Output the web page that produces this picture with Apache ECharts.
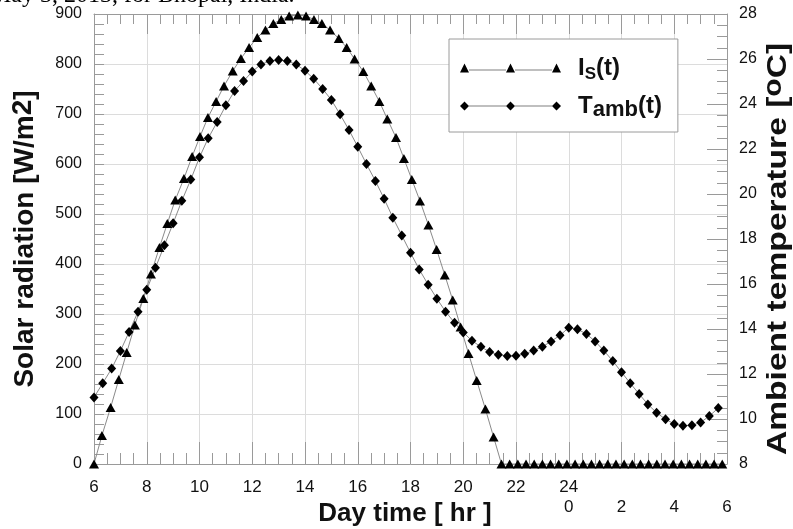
<!DOCTYPE html>
<html>
<head>
<meta charset="utf-8">
<title>Solar radiation and ambient temperature</title>
<script src="https://cdn.jsdelivr.net/npm/echarts@6/dist/echarts.min.js"></script>
<style>
  html, body { margin: 0; padding: 0; background: #fff; }
  #chart { width: 793px; height: 529px; }
</style>
</head>
<body>
<div id="chart"></div>
<script>
// Is(t) - solar radiation [W/m2], triangles
const solarHours = [6.00, 6.30, 6.63, 6.94, 7.24, 7.55, 7.87, 8.16, 8.48, 8.78, 9.08, 9.41, 9.72, 10.02,
    10.32, 10.63, 10.93, 11.26, 11.57, 11.88, 12.19, 12.50, 12.80, 13.10, 13.40, 13.73, 14.04, 14.34,
    14.64, 14.95, 15.28, 15.58, 15.88, 16.21, 16.51, 16.82, 17.12, 17.45, 17.75, 18.05, 18.36, 18.68,
    18.99, 19.30, 19.60, 19.90, 20.20, 20.51, 20.84, 21.15, 21.45, 21.76, 22.07, 22.38, 22.69, 23.00,
    23.31, 23.62, 23.93, 24.24, 24.55, 24.86, 25.17, 25.48, 25.79, 26.10, 26.41, 26.72, 27.03, 27.34,
    27.65, 27.96, 28.27, 28.58, 28.89, 29.20, 29.51, 29.82];
const solarValues = [0, 57, 113, 169, 223, 278, 331, 380, 433, 481, 528, 571, 615, 655,
    693, 725, 756, 786, 811, 833, 853, 868, 881, 889, 896, 898, 896, 889,
    881, 868, 851, 833, 810, 785, 756, 725, 690, 653, 611, 569, 526, 478,
    429, 378, 328, 274, 221, 167, 110, 54, 0, 0, 0, 0, 0, 0,
    0, 0, 0, 0, 0, 0, 0, 0, 0, 0, 0, 0, 0, 0,
    0, 0, 0, 0, 0, 0, 0, 0];

// Tamb(t) - ambient temperature [oC], diamonds
const tempHours = [6.00, 6.33, 6.67, 7.00, 7.33, 7.67, 8.00, 8.33, 8.67, 9.00, 9.33, 9.67,
    10.00, 10.33, 10.67, 11.00, 11.33, 11.67, 12.00, 12.33, 12.67, 13.00, 13.33, 13.67,
    14.00, 14.33, 14.67, 15.00, 15.33, 15.67, 16.00, 16.33, 16.67, 17.00, 17.33, 17.67,
    18.00, 18.33, 18.67, 19.00, 19.33, 19.67, 20.00, 20.33, 20.67, 21.00, 21.33, 21.67,
    22.00, 22.33, 22.67, 23.00, 23.33, 23.67, 24.00, 24.33, 24.67, 25.00, 25.33, 25.67,
    26.00, 26.33, 26.67, 27.00, 27.33, 27.67, 28.00, 28.33, 28.67, 29.00, 29.33, 29.67];
const tempValues = [10.96, 11.59, 12.24, 13.02, 13.87, 14.77, 15.75, 16.72, 17.72, 18.70, 19.70, 20.64,
    21.63, 22.48, 23.20, 23.94, 24.58, 25.02, 25.44, 25.76, 25.91, 25.96, 25.91, 25.76,
    25.48, 25.12, 24.67, 24.18, 23.54, 22.84, 22.10, 21.33, 20.58, 19.79, 18.95, 18.16,
    17.39, 16.65, 15.97, 15.35, 14.77, 14.28, 13.85, 13.48, 13.21, 12.98, 12.86, 12.80,
    12.81, 12.90, 13.04, 13.21, 13.45, 13.72, 14.06, 13.99, 13.78, 13.45, 13.04, 12.58,
    12.08, 11.59, 11.11, 10.65, 10.28, 9.99, 9.78, 9.70, 9.72, 9.85, 10.13, 10.49];

// x tick labels: first row is the day hour, second row the next-day clock
const hourLabels = {6: '6', 8: '8', 10: '10', 12: '12', 14: '14', 16: '16', 18: '18', 20: '20',
    22: '22', 24: '24\n0', 26: '\n2', 28: '\n4', 30: '\n6'};

const FONT = '"Liberation Sans", Arial, sans-serif';

const triIcon = 'path://M0,9 L4.5,0 L9,9 Z M46,9 L50.5,0 L55,9 Z M92,9 L96.5,0 L101,9 Z' +
    ' M9,6.2 L46,6.2 L46,6.8 L9,6.8 Z M55,6.2 L92,6.2 L92,6.8 L55,6.8 Z';
const diaIcon = 'path://M0,4.5 L4.5,0 L9,4.5 L4.5,9 Z M46,4.5 L50.5,0 L55,4.5 L50.5,9 Z' +
    ' M92,4.5 L96.5,0 L101,4.5 L96.5,9 Z M9,4.2 L46,4.2 L46,4.8 L9,4.8 Z M55,4.2 L92,4.2 L92,4.8 L55,4.8 Z';

const chart = echarts.init(document.getElementById('chart'));

const frameColor = '#9a9a9a';
const gridColor = '#dcdcdc';
const textColor = '#111';

const option = {
    animation: false,
    backgroundColor: '#fff',
    textStyle: { fontFamily: FONT },
    graphic: [{
        // caption of the figure, cut off at the top edge
        type: 'text',
        x: -10,
        y: -16,
        style: {
            text: 'May 3, 2013, for Bhopal, India.',
            font: '24px "Liberation Serif", "Times New Roman", serif',
            fill: '#000'
        }
    }, {
        // right axis title, drawn stretched along its length like the original
        type: 'text',
        x: 778,
        y: 249,
        rotation: Math.PI / 2,
        scaleX: 1.2,
        style: {
            text: 'Ambient temperature [{sup|o}C]',
            fontSize: 28,
            fontWeight: 'bold',
            fontFamily: FONT,
            fill: textColor,
            align: 'center',
            verticalAlign: 'middle',
            rich: {
                sup: { fontSize: 25, fontWeight: 'bold', fontFamily: FONT, fill: textColor, padding: [0, 0, 7, 0] }
            }
        }
    }],
    grid: { left: 94, right: 66, top: 14, bottom: 65, containLabel: false, outerBoundsMode: 'none' },
    legend: {
        left: 449,
        top: 39,
        orient: 'vertical',
        backgroundColor: '#fff',
        borderColor: frameColor,
        borderWidth: 1,
        padding: [17, 16, 11, 11],
        itemWidth: 101,
        itemHeight: 9,
        itemGap: 11,
        data: [
            { name: 'Is(t)', icon: triIcon },
            { name: 'Tamb(t)', icon: diaIcon }
        ],
        formatter: (name) => name === 'Is(t)' ? '{p|}{m|I}{s|S}{m|(t)}' : '{p|}{m|T}{a|amb}{m|(t)}',
        textStyle: {
            color: textColor,
            rich: {
                p: { width: 12 },
                m: { fontSize: 24, fontWeight: 'bold', lineHeight: 30, verticalAlign: 'middle', fontFamily: FONT },
                s: { fontSize: 17, fontWeight: 'bold', lineHeight: 20, verticalAlign: 'bottom', fontFamily: FONT },
                a: { fontSize: 22, fontWeight: 'bold', lineHeight: 22, verticalAlign: 'bottom', fontFamily: FONT }
            }
        }
    },
    xAxis: [{
        type: 'value',
        min: 6,
        max: 30,
        interval: 2,
        name: 'Day time [ hr ]',
        nameLocation: 'middle',
        nameGap: 37,
        nameMoveOverlap: false,
        nameTextStyle: { fontSize: 26, fontWeight: 'bold', color: textColor, fontFamily: FONT, padding: [0, 11, 0, 0] },
        axisLine: { onZero: false, lineStyle: { color: frameColor } },
        axisTick: { inside: true, length: 22, lineStyle: { color: frameColor } },
        minorTick: { show: true, splitNumber: 4, length: 11, lineStyle: { color: frameColor } },
        splitLine: { show: true, lineStyle: { color: gridColor } },
        axisLabel: {
            fontSize: 17,
            color: textColor,
            margin: 13,
            lineHeight: 20,
            verticalAlign: 'top',
            formatter: (v) => hourLabels[v] || ''
        }
    }, {
        type: 'value',
        position: 'top',
        min: 6,
        max: 30,
        interval: 2,
        axisLine: { onZero: false, lineStyle: { color: frameColor } },
        axisTick: { inside: true, length: 20, lineStyle: { color: frameColor } },
        minorTick: { show: true, splitNumber: 4, length: 10, lineStyle: { color: frameColor } },
        splitLine: { show: false },
        axisLabel: { show: false }
    }],
    yAxis: [{
        type: 'value',
        min: 0,
        max: 900,
        interval: 100,
        name: 'Solar radiation [W/m{sup|2}]',
        nameLocation: 'middle',
        nameGap: 52,
        nameMoveOverlap: false,
        nameTextStyle: {
            fontSize: 28, fontWeight: 'bold', color: textColor, fontFamily: FONT,
            rich: { sup: { fontSize: 28, fontWeight: 'bold', color: textColor, padding: [0, 0, 5, 0], fontFamily: FONT } }
        },
        axisLine: { show: true, onZero: false, lineStyle: { color: frameColor } },
        axisTick: { show: true, inside: true, length: 10, lineStyle: { color: frameColor } },
        minorTick: { show: true, splitNumber: 5, length: 10, lineStyle: { color: frameColor } },
        splitLine: { show: true, lineStyle: { color: gridColor } },
        axisLabel: { fontSize: 16, color: textColor, margin: 12 }
    }, {
        type: 'value',
        position: 'right',
        min: 8,
        max: 28,
        interval: 2,
        axisLine: { show: true, onZero: false, lineStyle: { color: frameColor } },
        axisTick: { show: true, inside: true, length: 20, lineStyle: { color: frameColor } },
        minorTick: { show: true, splitNumber: 4, length: 10, lineStyle: { color: frameColor } },
        splitLine: { show: false },
        axisLabel: { fontSize: 16, color: textColor, margin: 12 }
    }],
    series: [{
        name: 'Is(t)',
        type: 'line',
        xAxisIndex: 0,
        yAxisIndex: 0,
        data: solarHours.map((h, i) => [h, solarValues[i]]),
        symbol: 'triangle',
        symbolSize: [10, 9],
        showAllSymbol: true,
        clip: false,
        itemStyle: { color: '#000' },
        lineStyle: { color: '#8a8a8a', width: 1 },
        z: 3
    }, {
        name: 'Tamb(t)',
        type: 'line',
        xAxisIndex: 0,
        yAxisIndex: 1,
        data: tempHours.map((h, i) => [h, tempValues[i]]),
        symbol: 'diamond',
        symbolSize: [9, 10],
        showAllSymbol: true,
        clip: false,
        itemStyle: { color: '#000' },
        lineStyle: { color: '#8a8a8a', width: 1 },
        z: 3
    }]
};

chart.setOption(option);
</script>
</body>
</html>
